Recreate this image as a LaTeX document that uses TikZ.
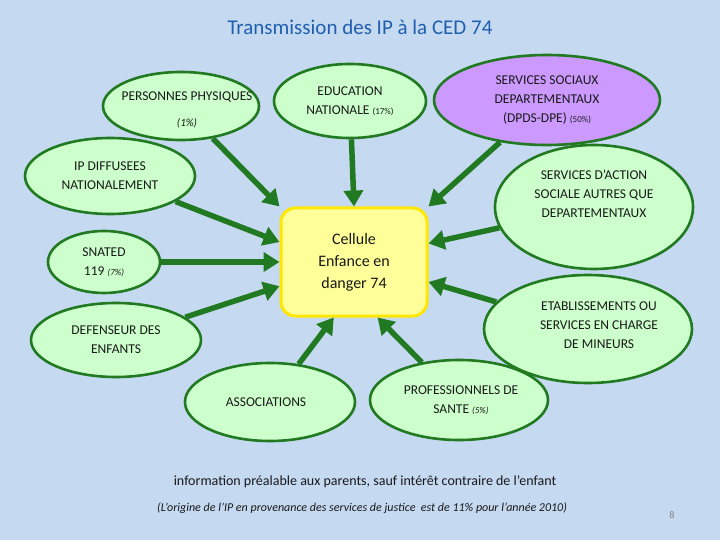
\documentclass[tikz,border=0pt]{standalone}
\usepackage{fontspec}
\setmainfont{Carlito}
\usetikzlibrary{shapes.geometric,arrows.meta,positioning}
\definecolor{bgblue}{HTML}{C5D9F1}
\definecolor{leaf}{HTML}{CCFFCC}
\definecolor{rim}{HTML}{217A21}
\definecolor{lilac}{HTML}{CC99FF}
\definecolor{titleblue}{HTML}{1F5FAD}
\definecolor{cellyellow}{HTML}{FFFF99}
\tikzset{
  source/.style={ellipse, draw=rim, line width=2.6pt, fill=leaf, inner sep=0pt},
  words/.style={align=center, font=\fontsize{13.5}{19}\selectfont, text=black!90},
  feed/.style={-{Triangle[length=16pt,width=19pt]}, draw=rim, line width=5.5pt}
}
\begin{document}
\begin{tikzpicture}[x=1pt,y=-1pt]
   \fill[bgblue] (0,0) rectangle (720,540);
   \useasboundingbox (0,0) rectangle (720,540);
   \node[text=titleblue, font=\fontsize{21}{24}\selectfont] (title) at (360,27) {Transmission des IP à la CED 74};
   % the centre
   \node[draw=yellow!90!orange, line width=3pt, fill=cellyellow, rounded corners=14pt,
         minimum width=146pt, minimum height=108pt, words, font=\fontsize{16}{22}\selectfont] (cell) at (354,262)
         {Cellule\\Enfance en\\danger 74};
   % the sources
   \node[source, minimum width=156pt, minimum height=68pt] (phys) at (181,106) {};
   \node[words] at (187,97) {PERSONNES PHYSIQUES};
   \node[words, font=\fontsize{11}{13}\selectfont\itshape] at (187,123) {(1\%)};
   \node[source, minimum width=152pt, minimum height=74pt, words] (educ) at (350,101) {EDUCATION\\NATIONALE {\small(17\%)}};
   \node[source, fill=lilac, minimum width=226pt, minimum height=90pt, words] (dpds) at (547,100) {SERVICES SOCIAUX\\DEPARTEMENTAUX\\(DPDS-DPE) {\small(50\%)}};
   \node[source, minimum width=170pt, minimum height=76pt, words] (ipdif) at (110,176) {IP DIFFUSEES\\NATIONALEMENT};
   \node[source, minimum width=198pt, minimum height=124pt] (action) at (594,207) {};
   \node[words] at (594,194) {SERVICES D’ACTION\\SOCIALE AUTRES QUE\\DEPARTEMENTAUX};
   \node[source, minimum width=112pt, minimum height=62pt, words] (snated) at (104,262) {SNATED\\119 {\small\itshape(7\%)}};
   \node[source, minimum width=170pt, minimum height=74pt, words] (defens) at (116,340) {DEFENSEUR DES\\ENFANTS};
   \node[source, minimum width=208pt, minimum height=108pt] (etab) at (588,329) {};
   \node[words] at (599,325) {ETABLISSEMENTS OU\\SERVICES EN CHARGE\\DE MINEURS};
   \node[source, minimum width=170pt, minimum height=78pt] (assoc) at (270,402) {};
   \node[words] at (266,402) {ASSOCIATIONS};
   \node[source, minimum width=178pt, minimum height=80pt] (prof) at (459,400) {};
   \node[words] at (461,400) {PROFESSIONNELS DE\\SANTE {\small\itshape(5\%)}};
   % arrows into the centre
   \draw[feed] (phys) -- (cell.north west);
   \draw[feed] (educ) -- (cell.north);
   \draw[feed] (dpds) -- (cell.north east);
   \draw[feed] (ipdif) -- (cell.165);
   \draw[feed] (snated) -- (cell.west);
   \draw[feed] (defens) -- (cell.198);
   \draw[feed] (assoc) -- (cell.250);
   \draw[feed] (prof) -- (cell.293);
   \draw[feed] (etab) -- (cell.345);
   \draw[feed] (action) -- (cell.14);
   % notes
   \node[words, font=\fontsize{14}{16}\selectfont] (note) at (365,482) {information préalable aux parents, sauf intérêt contraire de l’enfant};
   \node[words, font=\fontsize{12}{14}\selectfont\itshape] (origin) at (362,508) {(L’origine de l’IP en provenance des services de justice\ \ est de 11\% pour l’année 2010)};
   \node[text=gray, font=\fontsize{10}{12}\selectfont] (page) at (672,515) {8};
\end{tikzpicture}
\end{document}
